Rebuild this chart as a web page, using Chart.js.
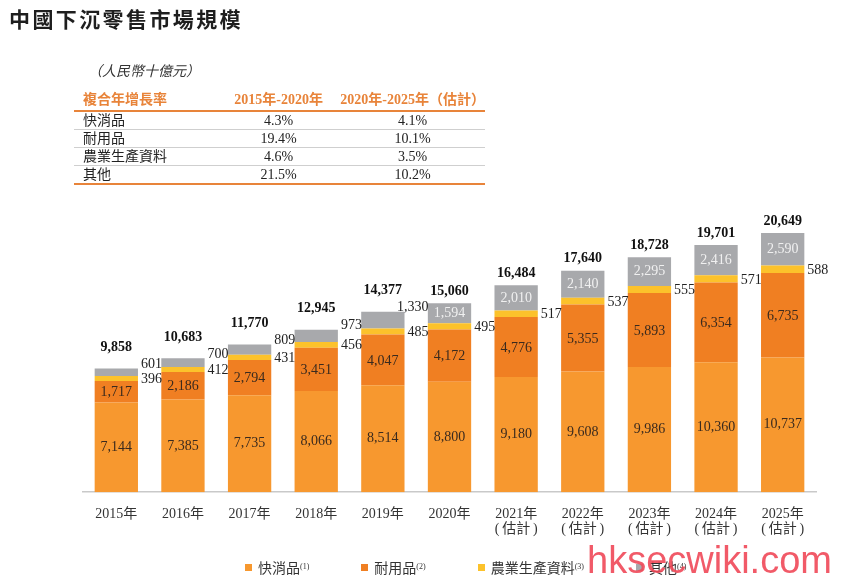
<!DOCTYPE html>
<html>
<head>
<meta charset="utf-8">
<script src="https://cdn.jsdelivr.net/npm/chart.js@4.4.1/dist/chart.umd.min.js"></script>
<style>
body{margin:0;background:#fff;width:846px;height:584px;position:relative;overflow:hidden;
  font-family:'Liberation Serif','Noto Sans CJK TC',serif;color:#222}
#c{position:absolute;left:0;top:0}
#title{position:absolute;left:9px;top:7px;font:bold 21px/22px 'Noto Sans CJK TC',sans-serif;letter-spacing:2.4px;color:#1e1e1e}
#unit{position:absolute;left:88px;top:63px;font-size:14px;line-height:18px;font-style:italic;color:#333}
#cagr{position:absolute;left:74px;top:90px;border-collapse:collapse;font-size:14px;width:411px}
#cagr th{color:#e8843a;font-weight:bold;height:20px;padding:0;border-bottom:2px solid #e8843a;white-space:nowrap;line-height:18px}
#cagr td{height:17px;padding:0;border-bottom:1px solid #cfcfcf;line-height:17px}
#cagr tr:last-child td{border-bottom:2px solid #e8843a}
#cagr .l{text-align:left;padding-left:9px;width:147px}
#cagr .v1{text-align:center;width:104px}
#cagr .v2{text-align:center;padding-left:10px;width:141px}
#legend{position:absolute;left:245px;top:558px;display:flex;gap:52px;font:14px/18px 'Noto Sans CJK TC',sans-serif;color:#333}
#legend span.it{display:flex;align-items:center}
#legend i{display:inline-block;width:7px;height:7px;margin-right:6px}
#legend sup{font-family:'Liberation Serif',serif;font-size:8px;line-height:8px;vertical-align:6px}
#wm{position:absolute;left:587px;top:541px;font:38px/38px 'Liberation Sans',Arial,sans-serif;color:rgba(240,72,88,0.9)}
</style>
</head>
<body>
<canvas id="c" width="846" height="584"></canvas>
<div id="title">中國下沉零售市場規模</div>
<div id="unit">（人民幣十億元）</div>
<table id="cagr"></table>
<div id="legend"></div>
<div id="wm">hksecwiki.com</div>
<script>
// 人民幣十億元
var xLabels = [["2015年"], ["2016年"], ["2017年"], ["2018年"], ["2019年"], ["2020年"],
  ["2021年", "(\u2009估計\u2009)"], ["2022年", "(\u2009估計\u2009)"], ["2023年", "(\u2009估計\u2009)"],
  ["2024年", "(\u2009估計\u2009)"], ["2025年", "(\u2009估計\u2009)"]];
var fmcg    = [7144, 7385, 7735, 8066, 8514, 8800, 9180, 9608, 9986, 10360, 10737];
var durable = [1717, 2186, 2794, 3451, 4047, 4172, 4776, 5355, 5893, 6354, 6735];
var agri    = [396, 412, 431, 456, 485, 495, 517, 537, 555, 571, 588];
var other   = [601, 700, 809, 973, 1330, 1594, 2010, 2140, 2295, 2416, 2590];
var totals  = [9858, 10683, 11770, 12945, 14377, 15060, 16484, 17640, 18728, 19701, 20649];

var seriesNames = ["快消品", "耐用品", "農業生產資料", "其他"];
var seriesColors = ["#f7982f", "#f07f22", "#fcc22b", "#a8a9ac"];

// 複合年增長率 table
var cagrHead = ["複合年增長率", "2015年-2020年", "2020年-2025年（估計）"];
var cagr1520 = ["4.3%", "19.4%", "4.6%", "21.5%"];
var cagr2025 = ["4.1%", "10.1%", "3.5%", "10.2%"];

var tbl = document.getElementById("cagr");
var html = '<tr><th class="l">' + cagrHead[0] + '</th><th class="v1">' + cagrHead[1] +
  '</th><th class="v2">' + cagrHead[2] + '</th></tr>';
seriesNames.forEach(function (n, i) {
  html += '<tr><td class="l">' + n + '</td><td class="v1">' + cagr1520[i] +
    '</td><td class="v2">' + cagr2025[i] + '</td></tr>';
});
tbl.innerHTML = html;

var lg = document.getElementById("legend");
lg.innerHTML = seriesNames.map(function (n, i) {
  return '<span class="it"><i style="background:' + seriesColors[i] + '"></i>' + n +
    '<sup>(' + (i + 1) + ')</sup></span>';
}).join("");

function fmt(v) { return v.toLocaleString("en-US"); }

var stackLabels = {
  id: "stackLabels",
  afterDatasetsDraw: function (chart) {
    var ctx = chart.ctx;
    var m = [0, 1, 2, 3].map(function (i) { return chart.getDatasetMeta(i).data; });
    ctx.save();
    ctx.textBaseline = "middle";
    xLabels.forEach(function (c, j) {
      var f = m[0][j], d = m[1][j], a = m[2][j], o = m[3][j];
      // outside labels are right-aligned in the gap after the bar
      var right = f.x + f.width / 2 + 24;
      ctx.font = '14px "Liberation Serif"';
      ctx.fillStyle = "#3a2a1e";
      ctx.textAlign = "center";
      ctx.fillText(fmt(fmcg[j]), f.x, (f.y + f.base) / 2);
      ctx.fillText(fmt(durable[j]), d.x, (d.y + d.base) / 2 + 1);
      ctx.textAlign = "right";
      ctx.fillStyle = "#222";
      ctx.fillText(fmt(agri[j]), right, (a.y + a.base) / 2 + 1);
      var topY;
      if (o.base - o.y > 18) {
        ctx.textAlign = "center";
        ctx.fillStyle = "#f0f0f0";
        ctx.fillText(fmt(other[j]), o.x, (o.y + o.base) / 2);
        topY = o.y - 12;
      } else {
        ctx.fillText(fmt(other[j]), right, o.y - 4);
        topY = o.y - 21;
      }
      ctx.font = 'bold 14px "Liberation Serif"';
      ctx.fillStyle = "#111";
      ctx.textAlign = "center";
      ctx.fillText(fmt(totals[j]), o.x, topY);
    });
    ctx.restore();
  }
};

var values = [fmcg, durable, agri, other];

new Chart("c", {
  type: "bar",
  data: {
    labels: xLabels,
    datasets: values.map(function (v, i) {
      return {
        label: seriesNames[i],
        data: v,
        backgroundColor: seriesColors[i],
        borderWidth: 0,
        barPercentage: 0.65,
        categoryPercentage: 1
      };
    })
  },
  options: {
    responsive: false,
    animation: false,
    layout: { padding: { left: 83, right: 30, top: 191, bottom: 41 } },
    plugins: { legend: { display: false }, tooltip: { enabled: false } },
    scales: {
      x: {
        stacked: true,
        grid: { display: false },
        border: { display: true, color: "#c9c9c9", width: 1.5 },
        ticks: {
          padding: 6, color: "#333", autoSkip: false, maxRotation: 0,
          font: { family: "'Liberation Serif','Noto Sans CJK TC'", size: 14, lineHeight: 1.1 }
        }
      },
      y: { stacked: true, display: false, min: 0, max: 24000 }
    }
  },
  plugins: [stackLabels]
});
</script>
</body>
</html>
